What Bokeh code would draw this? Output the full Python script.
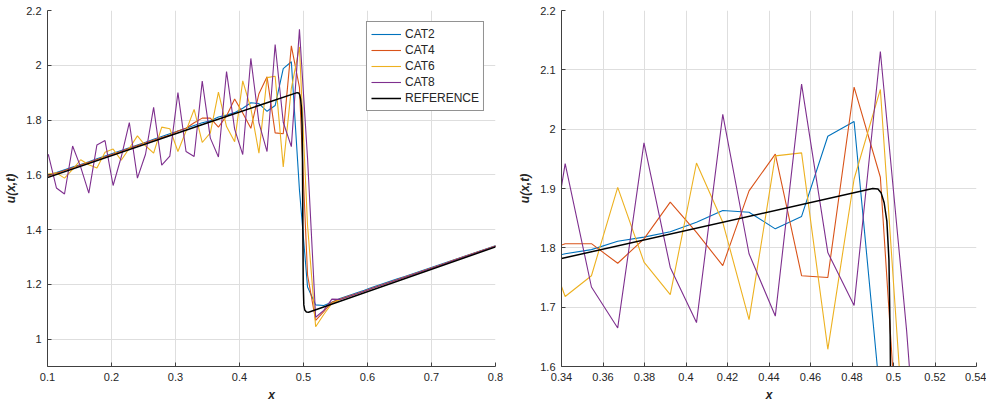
from bokeh.plotting import figure
from bokeh.models import Range1d, FixedTicker, CustomJSTickFormatter, Legend, LegendItem
from bokeh.layouts import row
from bokeh.embed import file_html
from bokeh.resources import INLINE

# grid of cell positions (i/79, i = 7..64)
x_grid = [round(i / 79, 5) for i in range(7, 65)]

cat2 = [1.589, 1.598, 1.608, 1.618, 1.628, 1.638, 1.648, 1.659, 1.669, 1.679,
        1.689, 1.699, 1.709, 1.719, 1.730, 1.740, 1.750, 1.760, 1.770, 1.780,
        1.790, 1.797, 1.811, 1.818, 1.827, 1.843, 1.863, 1.860, 1.832, 1.853,
        1.988, 2.013, 1.545, 1.190, 1.125, 1.123, 1.135, 1.148, 1.158, 1.168,
        1.178, 1.189, 1.199, 1.209, 1.219, 1.229, 1.239, 1.249, 1.259, 1.269,
        1.279, 1.289, 1.299, 1.309, 1.319, 1.329, 1.339, 1.349]

cat4 = [1.586, 1.596, 1.606, 1.616, 1.626, 1.636, 1.646, 1.656, 1.666, 1.676,
        1.686, 1.697, 1.707, 1.717, 1.727, 1.736, 1.745, 1.760, 1.770, 1.790,
        1.807, 1.807, 1.774, 1.815, 1.877, 1.826, 1.770, 1.896, 1.958, 1.753,
        1.750, 2.071, 1.919, 1.234, 1.068, 1.100, 1.135, 1.146, 1.156, 1.166,
        1.176, 1.187, 1.197, 1.207, 1.217, 1.227, 1.237, 1.247, 1.257, 1.267,
        1.277, 1.288, 1.298, 1.308, 1.318, 1.328, 1.338, 1.348]

cat6 = [1.612, 1.603, 1.607, 1.588, 1.620, 1.655, 1.637, 1.625, 1.682, 1.694,
        1.653, 1.697, 1.742, 1.706, 1.679, 1.774, 1.768, 1.685, 1.760, 1.839,
        1.718, 1.753, 1.902, 1.776, 1.721, 1.943, 1.843, 1.679, 1.955, 1.960,
        1.629, 1.916, 2.067, 1.415, 1.045, 1.090, 1.130, 1.145, 1.155, 1.165,
        1.175, 1.186, 1.196, 1.206, 1.216, 1.226, 1.236, 1.246, 1.256, 1.266,
        1.276, 1.287, 1.297, 1.307, 1.317, 1.327, 1.337, 1.347]

cat8 = [1.600, 1.675, 1.552, 1.530, 1.705, 1.628, 1.533, 1.709, 1.725, 1.561,
        1.665, 1.791, 1.588, 1.675, 1.846, 1.635, 1.668, 1.900, 1.685, 1.667,
        1.942, 1.734, 1.665, 1.977, 1.767, 1.674, 2.025, 1.790, 1.685, 2.076,
        1.792, 1.703, 2.131, 1.660, 1.080, 1.105, 1.146, 1.145, 1.155, 1.165,
        1.175, 1.186, 1.196, 1.206, 1.216, 1.226, 1.236, 1.246, 1.256, 1.266,
        1.276, 1.287, 1.297, 1.307, 1.317, 1.327, 1.337, 1.347]

ref_x = [0.08, 0.34, 0.490, 0.4925, 0.494, 0.4955, 0.4968, 0.4978, 0.4984,
         0.4990, 0.4996, 0.5005, 0.502, 0.5045, 0.508, 0.82]
ref_y = [1.574, 1.782, 1.900, 1.899, 1.893, 1.876, 1.845, 1.780, 1.650,
         1.400, 1.200, 1.125, 1.106, 1.099, 1.098, 1.353]

series_names = ["CAT2", "CAT4", "CAT6", "CAT8"]
series_colors = ["#0072BD", "#D95319", "#EDB120", "#7E2F8E"]

left_xticks = [0.1, 0.2, 0.3, 0.4, 0.5, 0.6, 0.7, 0.8]
left_yticks = [1.0, 1.2, 1.4, 1.6, 1.8, 2.0, 2.2]
right_xticks = [0.34, 0.36, 0.38, 0.40, 0.42, 0.44, 0.46, 0.48, 0.50, 0.52, 0.54]
right_yticks = [1.6, 1.7, 1.8, 1.9, 2.0, 2.1, 2.2]

FONT = "Liberation Sans"
TXT = "#262626"


def make_fig(w, h, xr, yr, xt, yt, bl, br, bt, bb):
    p = figure(width=w, height=h, x_range=Range1d(*xr), y_range=Range1d(*yr),
               output_backend="svg", toolbar_location=None,
               min_border_left=bl, min_border_right=br,
               min_border_top=bt, min_border_bottom=bb)
    p.outline_line_color = None
    p.background_fill_color = "white"
    p.border_fill_color = "white"
    fmt = CustomJSTickFormatter(code="return String(Math.round(tick*1000)/1000);")
    for ax, ticks in ((p.xaxis[0], xt), (p.yaxis[0], yt)):
        ax.ticker = FixedTicker(ticks=ticks)
        ax.formatter = fmt
        ax.axis_line_color = "#404040"
        ax.axis_line_width = 1
        ax.major_tick_line_color = "#404040"
        ax.major_tick_in = 4
        ax.major_tick_out = 0
        ax.minor_tick_line_color = None
        ax.major_label_text_font = FONT
        ax.major_label_text_font_size = "11px"
        ax.major_label_text_color = TXT
        ax.axis_label_text_font = FONT
        ax.axis_label_text_font_size = "12px"
        ax.axis_label_text_font_style = "bold italic"
        ax.axis_label_text_color = TXT
        ax.major_label_standoff = 6
        ax.axis_label_standoff = 5
    p.xaxis[0].axis_label = "x"
    p.yaxis[0].axis_label = "u(x,t)"
    p.xaxis[0].major_label_standoff = 6
    p.xaxis[0].axis_label_standoff = 4
    p.xgrid.ticker = FixedTicker(ticks=xt)
    p.ygrid.ticker = FixedTicker(ticks=yt)
    for g in (p.xgrid[0], p.ygrid[0]):
        g.grid_line_color = "#dedede"
        g.grid_line_width = 1
    return p


def add_lines(p):
    rends = []
    for ys, name, col in zip([cat2, cat4, cat6, cat8], series_names, series_colors):
        r = p.line(x_grid, ys, line_color=col, line_width=1.1)
        rends.append((name, r))
    r = p.line(ref_x, ref_y, line_color="black", line_width=1.5)
    rends.append(("REFERENCE", r))
    return rends


H = 404
W1 = 508
W2 = 478
p1 = make_fig(W1, H, (0.1, 0.8), (0.9, 2.2), left_xticks, left_yticks, 47, W1 - 495, 10, 36)
items = add_lines(p1)
legend = Legend(items=[LegendItem(label=n, renderers=[r]) for n, r in items],
                location="top_right")
legend.margin = 11
legend.padding = 4
legend.spacing = 0
legend.label_height = 16
legend.glyph_height = 16
legend.glyph_width = 30
legend.label_standoff = 4
legend.label_text_font = FONT
legend.label_text_font_size = "12px"
legend.label_text_color = TXT
legend.border_line_color = TXT
legend.border_line_width = 1
legend.background_fill_color = "white"
legend.background_fill_alpha = 1.0
p1.add_layout(legend, "center")

p2 = make_fig(W2, H, (0.34, 0.54), (1.6, 2.2), right_xticks, right_yticks, 561 - W1, 10, 10, 36)
add_lines(p2)

layout = row(p1, p2)
open("out.html", "w").write(file_html(layout, INLINE))
